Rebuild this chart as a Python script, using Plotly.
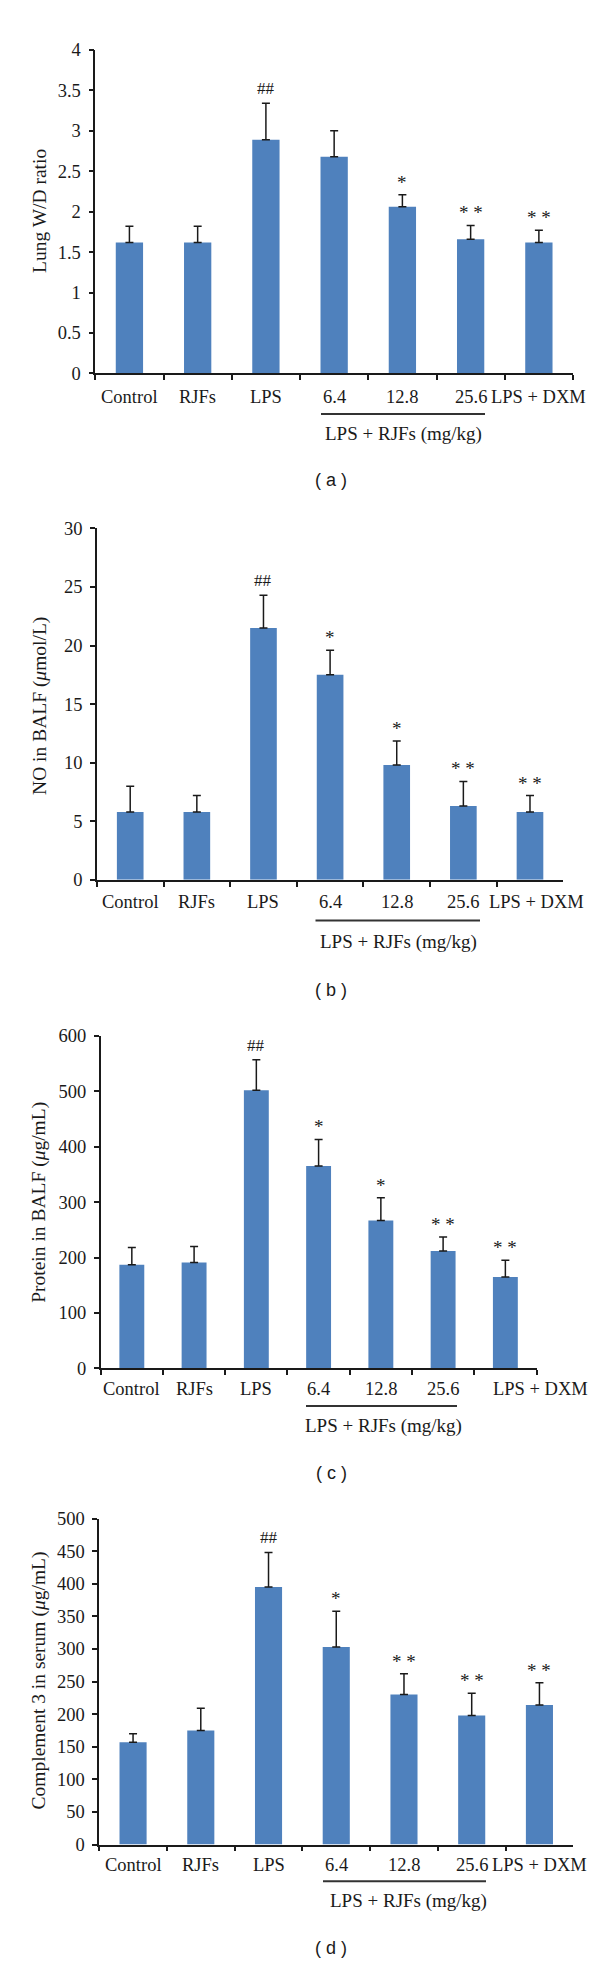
import plotly.graph_objects as go

W, H = 600, 1965

categories = ["Control", "RJFs", "LPS", "6.4", "12.8", "25.6", "LPS + DXM"]

wd_mean = [1.62, 1.62, 2.89, 2.68, 2.06, 1.66, 1.62]
wd_sd = [0.20, 0.20, 0.45, 0.32, 0.15, 0.17, 0.15]
wd_sig = ["", "", "##", "", "*", "* *", "* *"]

no_mean = [5.8, 5.8, 21.5, 17.5, 9.8, 6.3, 5.8]
no_sd = [2.2, 1.4, 2.8, 2.1, 2.05, 2.1, 1.4]
no_sig = ["", "", "##", "*", "*", "* *", "* *"]

prot_mean = [187, 191, 502, 365, 267, 212, 165]
prot_sd = [31, 29, 55, 48, 41, 25, 30]
prot_sig = ["", "", "##", "*", "*", "* *", "* *"]

c3_mean = [157, 175, 395, 303, 230, 198, 214]
c3_sd = [13, 34, 53, 55, 32, 34, 34]
c3_sig = ["", "", "##", "*", "* *", "* *", "* *"]

panels = [
    dict(mean=wd_mean, sd=wd_sd, sig=wd_sig, ymax=4, dtick=0.5,
         title="Lung W/D ratio", letter="( a )",
         x0=87.3, x1=565, ytop=32.3, ybot=359, lab_y=383,
         br=(313, 477, 400), grp=(395, 420), let_y=467, tt=(31, 195), dxm_shift=0),
    dict(mean=no_mean, sd=no_sd, sig=no_sig, ymax=30, dtick=5,
         title="NO in BALF (<i>μ</i>mol/L)", letter="( b )",
         x0=88.9, x1=555.3, ytop=515.7, ybot=870.7, lab_y=893,
         br=(307.5, 472, 911.7), grp=(390, 933), let_y=982, tt=(32, 695), dxm_shift=7),
    dict(mean=prot_mean, sd=prot_sd, sig=prot_sig, ymax=600, dtick=100,
         title="Protein in BALF (<i>μ</i>g/mL)", letter="( c )",
         x0=92.7, x1=528.5, ytop=1028.3, ybot=1364.3, lab_y=1385,
         br=(298, 449, 1402.3), grp=(375, 1422.3), let_y=1470, tt=(31, 1197), dxm_shift=35),
    dict(mean=c3_mean, sd=c3_sd, sig=c3_sig, ymax=500, dtick=50,
         title="Complement 3 in serum (<i>μ</i>g/mL)", letter="( d )",
         x0=91.2, x1=565.3, ytop=1516, ybot=1845.3, lab_y=1866,
         br=(315, 478, 1882.3), grp=(400, 1902.3), let_y=1950, tt=(30.5, 1680), dxm_shift=0),
]

SERIF = "Liberation Serif"
SANS = "Liberation Sans"
INK = "#1a1a1a"

fig = go.Figure()
annotations = []
shapes = []
layout_axes = {}

for i, p in enumerate(panels):
    n = "" if i == 0 else str(i + 1)
    xa, ya = "x" + n, "y" + n
    fig.add_trace(go.Bar(
        x=categories, y=p["mean"], xaxis=xa, yaxis=ya,
        marker=dict(color="#4F81BD", line=dict(width=0)),
        error_y=dict(type="data", array=p["sd"], arrayminus=[0] * len(p["sd"]),
                     symmetric=False, color=INK, thickness=1.5, width=4),
        showlegend=False, hoverinfo="x+y",
    ))
    layout_axes["xaxis" + n] = dict(
        domain=[p["x0"] / W, p["x1"] / W], anchor=ya, type="category",
        categoryorder="array", categoryarray=categories,
        range=[-0.5, len(categories) - 0.5],
        showline=True, linecolor=INK, linewidth=1.5, mirror=False,
        ticks="outside", tickson="boundaries", ticklen=5, tickwidth=1.5, tickcolor=INK,
        showticklabels=False, showgrid=False, zeroline=False, fixedrange=True,
    )
    layout_axes["yaxis" + n] = dict(
        domain=[1 - p["ybot"] / H, 1 - p["ytop"] / H], anchor=xa,
        range=[0, p["ymax"]], dtick=p["dtick"], tick0=0,
        showline=True, linecolor=INK, linewidth=1.5,
        ticks="outside", ticklen=5, tickwidth=1.5, tickcolor=INK,
        ticklabelstandoff=4,
        tickfont=dict(family=SERIF, size=18.5, color=INK),
        showgrid=False, zeroline=False, fixedrange=True,
    )
    # x category labels (positioned by category index on the category axis)
    for k, c in enumerate(categories):
        annotations.append(dict(
            x=k, xref=xa, y=1 - p["lab_y"] / H, yref="paper",
            text=c, showarrow=False, yanchor="middle", xanchor="center",
            xshift=p["dxm_shift"] if c == "LPS + DXM" else 0,
            font=dict(family=SERIF, size=18.5, color=INK),
        ))
    # significance markers
    for k, (m, s, t) in enumerate(zip(p["mean"], p["sd"], p["sig"])):
        if t:
            is_hash = t.startswith("#")
            annotations.append(dict(
                x=k, xref=xa, y=m + s, yref=ya, text=t, showarrow=False,
                yanchor="bottom", xanchor="center", yshift=3 if is_hash else 0,
                font=dict(family=SERIF, size=17 if is_hash else 19, color=INK),
            ))
    # bracket for LPS + RJFs group
    bx0, bx1, by = p["br"]
    shapes.append(dict(type="line", xref="paper", yref="paper",
                       x0=bx0 / W, x1=bx1 / W, y0=1 - by / H, y1=1 - by / H,
                       line=dict(color="#333333", width=2)))
    gx, gy = p["grp"]
    annotations.append(dict(
        x=gx / W, y=1 - gy / H, xref="paper", yref="paper",
        text="LPS + RJFs (mg/kg)", showarrow=False,
        xanchor="center", yanchor="middle",
        font=dict(family=SERIF, size=19, color=INK),
    ))
    # y-axis title
    tx, ty = p["tt"]
    annotations.append(dict(
        x=tx / W, y=1 - ty / H, xref="paper", yref="paper",
        text=p["title"], showarrow=False, textangle=-90,
        xanchor="center", yanchor="middle",
        font=dict(family=SERIF, size=19.5, color=INK),
    ))
    # panel letter
    annotations.append(dict(
        x=323 / W, y=1 - p["let_y"] / H, xref="paper", yref="paper",
        text=p["letter"], showarrow=False, xanchor="center", yanchor="middle",
        font=dict(family=SANS, size=18, color=INK),
    ))

fig.update_layout(
    width=W, height=H, autosize=False,
    margin=dict(l=0, r=0, t=0, b=0),
    paper_bgcolor="white", plot_bgcolor="white",
    bargap=0.6,
    annotations=annotations, shapes=shapes,
    **layout_axes,
)

fig.write_html("out.html", config={"displayModeBar": False})
